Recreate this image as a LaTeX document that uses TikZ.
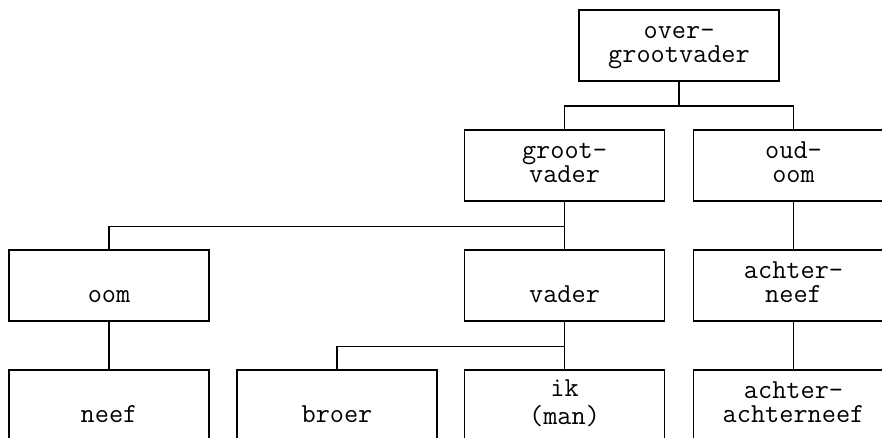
\documentclass[tikz,border=0pt]{standalone}
\usepackage{fontspec}

\newcommand\naam[2]{\strut #1\\\strut #2}

\tikzset{persoon/.style = {draw, line width=1.5pt, minimum width=200pt,
                           minimum height=71pt, inner sep=0pt, align=center,
                           font=\ttfamily\fontsize{27.5pt}{24.5pt}\selectfont},
         tak/.style = {line width=1.5pt}
        }

\begin{document}
\begin{tikzpicture}[x=1pt,y=-1pt]
  \tikzstyle{every node}=[persoon]
  \useasboundingbox (0,0) rectangle (882,438);
  \node (overgrootvader)   at (679,45.5)    {\naam{over-}{grootvader}};
  \node (grootvader)       at (564.5,165.5) {\naam{groot-}{vader}};
  \node (oudoom)           at (793.5,165.5) {\naam{oud-}{oom}};
  \node (oom)              at (109,285.5)   {\naam{}{oom}};
  \node (vader)            at (564.5,285.5) {\naam{}{vader}};
  \node (achterneef)       at (793.5,285.5) {\naam{achter-}{neef}};
  \node (neef)             at (109,405.5)   {\naam{}{neef}};
  \node (broer)            at (337,405.5)   {\naam{}{broer}};
  \node (ik)               at (564.5,405.5) {\naam{ik}{(man)}};
  \node (achterachterneef) at (793.5,405.5) {\naam{achter-}{achterneef}};
  % takken
  \draw[tak] (overgrootvader.south) -- ++(0,24.5) -| (grootvader.north);
  \draw[tak] (overgrootvader.south) -- ++(0,24.5) -| (oudoom.north);
  \draw[tak] (grootvader.south) -- ++(0,24.5) -| (oom.north);
  \draw[tak] (grootvader.south) -- (vader.north);
  \draw[tak] (oudoom.south) -- (achterneef.north);
  \draw[tak] (oom.south) -- (neef.north);
  \draw[tak] (vader.south) -- ++(0,24.5) -| (broer.north);
  \draw[tak] (vader.south) -- (ik.north);
  \draw[tak] (achterneef.south) -- (achterachterneef.north);
\end{tikzpicture}
\end{document}
